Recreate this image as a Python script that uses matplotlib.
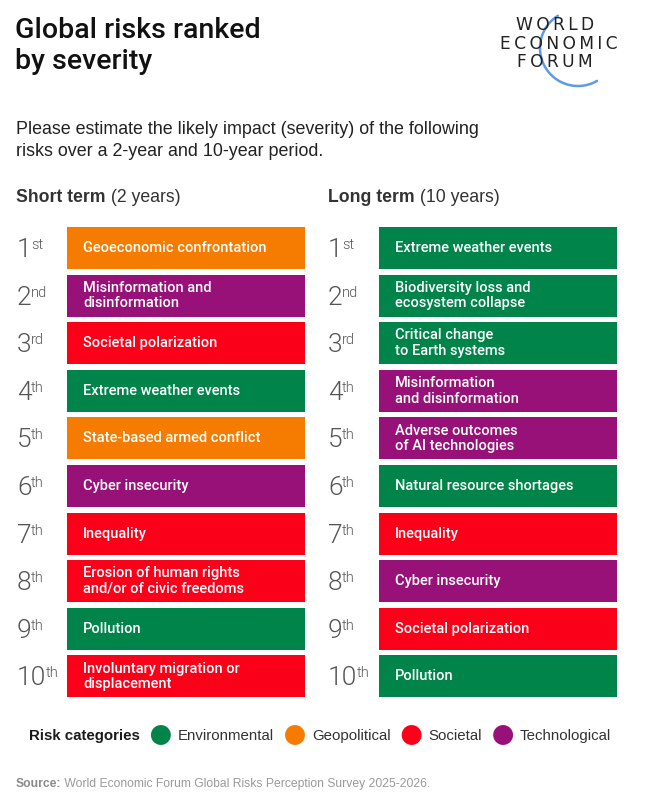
import numpy as np
import matplotlib
matplotlib.use("Agg")
import matplotlib.pyplot as plt
from matplotlib import transforms, font_manager

plt.rcParams["font.family"] = ["Liberation Sans", "DejaVu Sans"]

# ---- data ---------------------------------------------------------
ranks = list(range(1, 11))
rank_suffix = ["st", "nd", "rd", "th", "th", "th", "th", "th", "th", "th"]

short_risks = [
    "Geoeconomic confrontation",
    "Misinformation and\ndisinformation",
    "Societal polarization",
    "Extreme weather events",
    "State-based armed conflict",
    "Cyber insecurity",
    "Inequality",
    "Erosion of human rights\nand/or of civic freedoms",
    "Pollution",
    "Involuntary migration or\ndisplacement",
]
short_cats = ["Geopolitical", "Technological", "Societal", "Environmental",
              "Geopolitical", "Technological", "Societal", "Societal",
              "Environmental", "Societal"]

long_risks = [
    "Extreme weather events",
    "Biodiversity loss and\necosystem collapse",
    "Critical change\nto Earth systems",
    "Misinformation\nand disinformation",
    "Adverse outcomes\nof AI technologies",
    "Natural resource shortages",
    "Inequality",
    "Cyber insecurity",
    "Societal polarization",
    "Pollution",
]
long_cats = ["Environmental", "Environmental", "Environmental", "Technological",
             "Technological", "Environmental", "Societal", "Technological",
             "Societal", "Environmental"]

categories = ["Environmental", "Geopolitical", "Societal", "Technological"]
cat_colors = {
    "Environmental": "#00844a",
    "Geopolitical": "#f57c00",
    "Societal": "#fb0019",
    "Technological": "#981178",
}

# a true "light" (300) face for the big rank numbers, if one is installed
light_family = None
for fam in ["Roboto", "Lato", "Open Sans", "Noto Sans", "Inter"]:
    if any(f.name == fam and f.weight in (300, "light")
           for f in font_manager.fontManager.ttflist):
        light_family = fam
        break
num_font = ({"family": [light_family], "fontweight": 300}
            if light_family else {"family": ["Liberation Sans"]})

W, H = 651, 802
fig = plt.figure(figsize=(W / 100, H / 100), dpi=100)
fig.patch.set_facecolor("white")

# overlay axes in pixel units for all the free text
ov = fig.add_axes([0, 0, 1, 1])
ov.set_xlim(0, W)
ov.set_ylim(H, 0)
ov.axis("off")

renderer = fig.canvas.get_renderer()


def px_right(t):
    return t.get_window_extent(renderer=renderer).x1


def to_data_x(px):
    return ov.transData.inverted().transform((px, 0))[0]


def text_run(x, y, parts, **kw):
    """Draw consecutive text pieces on one line; parts = [(str, dict)]."""
    for s, style in parts:
        t = ov.text(x, y, s, va="baseline", ha="left", **{**kw, **style})
        x = to_data_x(px_right(t))
    return x


# ---- title + logo -------------------------------------------------
title_kw = dict(fontsize=20.5, color="#111111", va="baseline",
                fontweight="medium", family=["Roboto", "Liberation Sans"])
ov.text(15, 38, "Global risks ranked", **title_kw)
ov.text(15, 69, "by severity", **title_kw)

for word, xc, yc in [("WORLD", 555, 25), ("ECONOMIC", 559, 44),
                     ("FORUM", 555, 62)]:
    ov.text(xc, yc, "\u2009".join(word), ha="center", va="center",
            fontsize=12.3, color="#222222", family=["DejaVu Sans"])
theta = np.radians(np.linspace(122, 300, 80))
ov.plot(578 + 38 * np.cos(theta), 48 - 38 * np.sin(theta),
        color="#5b9bea", lw=1.8, solid_capstyle="round")

# ---- subtitle + headers -------------------------------------------
ov.text(16, 134, "Please estimate the likely impact (severity) of the following",
        fontsize=12.9, color="#222222", va="baseline")
ov.text(16, 156, "risks over a 2-year and 10-year period.",
        fontsize=12.9, color="#222222", va="baseline")

text_run(16, 202, [("Short term", {"fontweight": "bold"}),
                   (" (2 years)", {})], fontsize=12.7, color="#333333")
text_run(328, 202, [("Long term", {"fontweight": "bold"}),
                    (" (10 years)", {})], fontsize=12.7, color="#333333")

# ---- ranked bars ----------------------------------------------------
top_px, pitch = 224.2, 47.6
bottom_px = top_px + pitch * len(ranks)
panels = [(67, 17, short_risks, short_cats), (379, 328, long_risks, long_cats)]

for bar_x, num_x, risks, cats in panels:
    ax = fig.add_axes([bar_x / W, 1 - bottom_px / H, 238 / W,
                       (bottom_px - top_px) / H])
    ax.set_xlim(0, 1)
    ax.set_ylim(len(ranks) + 0.5, 0.5)
    ax.axis("off")
    ax.barh(ranks, 1, left=0, height=0.88,
            color=[cat_colors[c] for c in cats], edgecolor="none")

    inside = transforms.offset_copy(
        transforms.blended_transform_factory(ax.transAxes, ax.transData),
        fig=fig, x=16, y=0, units="dots")
    for r, label in zip(ranks, risks):
        ax.text(0, r, label, transform=inside, color="white", fontsize=10.5,
                va="center", ha="left", linespacing=1.13,
                fontweight="medium", family=["Roboto", "Liberation Sans"])

    # rank numbers with superscript suffixes
    mix = transforms.blended_transform_factory(ov.transData, ax.transData)
    num_tr = transforms.offset_copy(mix, fig=fig, x=0, y=-9, units="dots")
    sup_tr = transforms.offset_copy(
        transforms.blended_transform_factory(transforms.IdentityTransform(),
                                             ax.transData),
        fig=fig, x=-0.5, y=-1, units="dots")
    for r, suf in zip(ranks, rank_suffix):
        t = ax.text(num_x, r, str(r), transform=num_tr, fontsize=19,
                    color="#555555", va="baseline", ha="left", clip_on=False,
                    **num_font)
        ax.text(px_right(t), r, suf, transform=sup_tr, fontsize=10.5,
                color="#555555", va="baseline", ha="left", clip_on=False,
                **num_font)

# ---- legend -------------------------------------------------------
leg_y = 735
x = text_run(29, leg_y + 5, [("Risk categories", {"fontweight": "bold"})],
             fontsize=10.8, color="#1a1a1a")
for cat in categories:
    cx = x + 21
    ov.scatter([cx], [leg_y], s=205, color=cat_colors[cat], edgecolor="none")
    x = text_run(cx + 17, leg_y + 5, [(cat, {})], fontsize=10.8,
                 color="#333333")

# ---- source -------------------------------------------------------
text_run(16, 787, [("Source:", {"fontweight": "bold", "color": "#8a8a8a"}),
                   (" World Economic Forum Global Risks Perception Survey 2025-2026.",
                    {"color": "#9a9a9a"})], fontsize=8.7)

fig.savefig("out.png", dpi=100, facecolor="white")
